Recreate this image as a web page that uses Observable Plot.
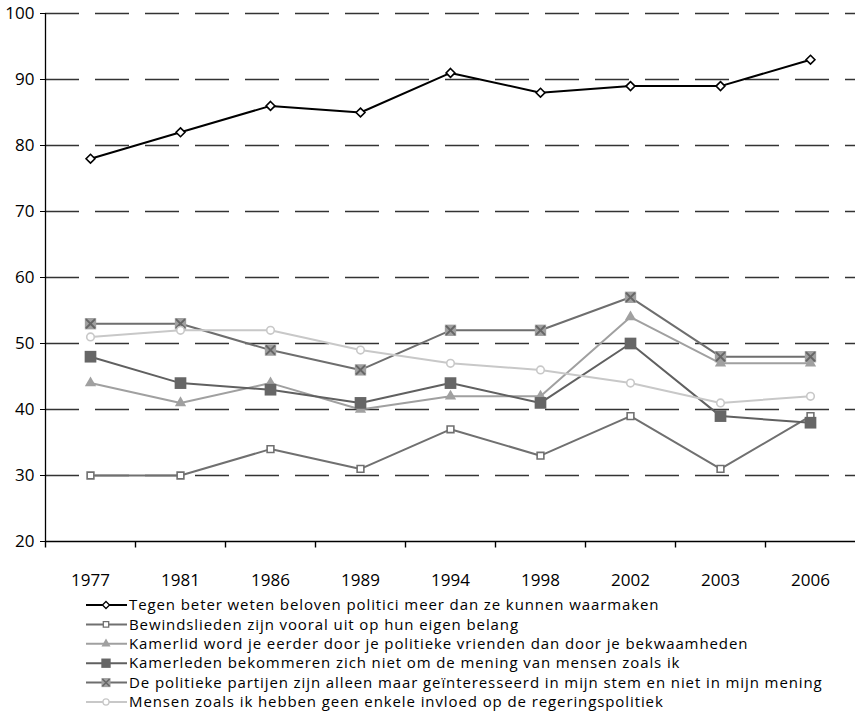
<!DOCTYPE html>
<html>
<head>
<meta charset="utf-8">
<script src="https://cdn.jsdelivr.net/npm/d3@7"></script>
<script src="https://cdn.jsdelivr.net/npm/@observablehq/plot@0.6"></script>
<style>
  html, body { margin: 0; padding: 0; background: #fff; }
  #wrap { position: relative; width: 855px; height: 724px; font-family: "Open Sans", Lato, sans-serif; }
  #legend { position: absolute; left: 0; top: 590px; }
</style>
</head>
<body>
<div id="wrap"><div id="chart"></div><svg id="legend" width="855" height="134"></svg></div>
<script>
const years = ["1977", "1981", "1986", "1989", "1994", "1998", "2002", "2003", "2006"];
const seriesNames = [
  "Tegen beter weten beloven politici meer dan ze kunnen waarmaken",
  "Bewindslieden zijn vooral uit op hun eigen belang",
  "Kamerlid word je eerder door je politieke vrienden dan door je bekwaamheden",
  "Kamerleden bekommeren zich niet om de mening van mensen zoals ik",
  "De politieke partijen zijn alleen maar geïnteresseerd in mijn stem en niet in mijn mening",
  "Mensen zoals ik hebben geen enkele invloed op de regeringspolitiek"
];
const tegenBeterWeten   = [78, 82, 86, 85, 91, 88, 89, 89, 93];
const bewindslieden     = [30, 30, 34, 31, 37, 33, 39, 31, 39];
const kamerlidVrienden  = [44, 41, 44, 40, 42, 42, 54, 47, 47];
const kamerledenMening  = [48, 44, 43, 41, 44, 41, 50, 39, 38];
const partijenStem      = [53, 53, 49, 46, 52, 52, 57, 48, 48];
const mensenInvloed     = [51, 52, 52, 49, 47, 46, 44, 41, 42];
const yTicks = [20, 30, 40, 50, 60, 70, 80, 90, 100];

const seriesValues = [tegenBeterWeten, bewindslieden, kamerlidVrienden, kamerledenMening, partijenStem, mensenInvloed];
const rows = seriesValues.map((vals, i) => years.map((y, j) => ({series: seriesNames[i], year: y, value: vals[j]})));

const styles = [
  {line: "#000000", markers: [{symbol: "diamond2", r: 4, fill: "#fff", stroke: "#000", sw: 1.6}]},
  {line: "#707070", markers: [{symbol: "square", r: 3.8, fill: "#fff", stroke: "#707070", sw: 1.6}]},
  {line: "#a0a0a0", markers: [{symbol: "triangle", r: 4.2, fill: "#a0a0a0", stroke: "none", sw: 0}]},
  {line: "#606060", markers: [{symbol: "square", r: 6.6, fill: "#666666", stroke: "none", sw: 0}]},
  {line: "#6e6e6e", markers: [{symbol: "square", r: 6.4, fill: "#a0a0a0", stroke: "none", sw: 0},
                              {symbol: "times", r: 4.2, fill: "none", stroke: "#666", sw: 2}]},
  {line: "#c8c8c8", markers: [{symbol: "circle", r: 3.8, fill: "#fff", stroke: "#c8c8c8", sw: 1.6}]}
];

const FONT = "'Open Sans', Lato, sans-serif";
const W = 855, H = 595, mL = 45, mR = 0;
const bw = (W - mL - mR) / years.length;

// a short downward tick used for the category boundaries on the x axis
const downTick = {draw(ctx) { ctx.moveTo(0, 0); ctx.lineTo(0, 6); }};

const marks = [
  Plot.gridY(yTicks.filter(t => t > 20), {stroke: "#333", strokeOpacity: 1, strokeWidth: 1.3, strokeDasharray: "34,16"}),
  Plot.ruleY([20], {stroke: "#000", strokeWidth: 1.3}),
  Plot.ruleX([years[0]], {stroke: "#000", strokeWidth: 1.3, dx: -bw / 2}),
  Plot.axisY({ticks: yTicks, tickSize: 5, tickPadding: 6, fontSize: 17, label: null, stroke: "#000", color: "#000"}),
  Plot.axisX({tickSize: 0, tickPadding: 32, fontSize: 17, label: null, color: "#000"})
];
rows.forEach((data, i) => {
  marks.push(Plot.line(data, {x: "year", y: "value", stroke: styles[i].line, strokeWidth: 2}));
});
rows.forEach((data, i) => {
  styles[i].markers.forEach(m => {
    marks.push(Plot.dot(data, {x: "year", y: "value", symbol: () => m.symbol, r: m.r, fill: m.fill, stroke: m.stroke, strokeWidth: m.sw}));
  });
});
// boundary ticks drawn last so nothing can hide them
marks.push(Plot.dot(years, {x: d => d, y: () => yTicks[0], dx: -bw / 2, symbol: downTick, fill: "none", stroke: "#000", strokeWidth: 1.4}));

const chart = Plot.plot({
  width: W, height: H,
  marginLeft: mL, marginRight: mR, marginTop: 13, marginBottom: 54,
  style: {fontFamily: FONT, fontSize: "17px", fontWeight: "normal", color: "#000", background: "#fff"},
  x: {type: "band", domain: years, padding: 0},
  y: {domain: [20, 100]},
  symbol: {type: "identity"},
  marks
});
document.getElementById("chart").appendChild(chart);

// legend
const symMap = {diamond2: d3.symbolDiamond2, square: d3.symbolSquare, triangle: d3.symbolTriangle, times: d3.symbolTimes, circle: d3.symbolCircle};
const leg = d3.select("#legend");
const legScale = 0.8;
seriesNames.forEach((name, i) => {
  const s = styles[i];
  const g = leg.append("g").attr("transform", `translate(0,${15 + i * 19.4})`);
  g.append("line").attr("x1", 86).attr("x2", 127).attr("y1", 0).attr("y2", 0).attr("stroke", s.line).attr("stroke-width", 2);
  s.markers.forEach(m => {
    const r = m.r * legScale;
    g.append("path").attr("transform", "translate(106,0)")
      .attr("d", d3.symbol(symMap[m.symbol], Math.PI * r * r)())
      .attr("fill", m.fill).attr("stroke", m.stroke).attr("stroke-width", m.sw * 0.8);
  });
  g.append("text").attr("x", 129).attr("y", 0).attr("dy", "0.35em")
    .attr("font-family", FONT).attr("font-size", 15).attr("letter-spacing", "0.9px")
    .attr("fill", "#000").text(name);
});
</script>
</body>
</html>
